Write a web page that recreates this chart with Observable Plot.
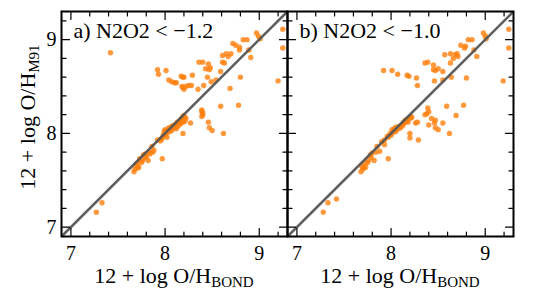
<!DOCTYPE html>
<html><head><meta charset="utf-8">
<script src="https://cdn.jsdelivr.net/npm/d3@7"></script>
<script src="https://cdn.jsdelivr.net/npm/@observablehq/plot@0.6"></script>
<style>
body{margin:0;background:#fff}
#chart{position:relative;width:538px;height:294px}
</style>
</head><body><div id="chart"></div>
<script>
// ---- data ----
const axisDomain = [6.9, 9.3];
const majorTicks = [7, 8, 9];
const panelKeys = ["a", "b"];
const panelLabels = ["a) N2O2 < \u22121.2", "b) N2O2 < \u22121.0"];
const xLabelMain = "12 + log O/H";
const xLabelSub = "BOND";
const yLabelMain = "12 + log O/H";
const yLabelSub = "M91";

// panel a) N2O2 < -1.2
const aX = [7.27,7.33,7.67,7.68,7.70,7.72,7.70,7.73,7.73,7.76,7.77,7.79,7.80,7.82,7.83,7.84,7.86,7.87,7.88,7.97,
  7.92,7.95,7.96,7.98,7.99,8.00,8.01,8.02,8.03,8.05,8.07,8.09,8.10,8.12,8.14,8.16,8.18,8.19,8.20,8.21,8.19,8.27,
  8.04,8.06,8.08,8.11,8.13,8.15,8.17,8.20,8.22,8.21,8.00,7.97,8.01,8.17,8.12,
  8.02,8.05,8.08,8.10,8.13,8.16,8.18,8.19,8.14,8.07,7.71,7.75,7.79,
  8.39,8.39,8.40,8.39,8.40,8.46,8.47,8.50,8.62,8.59,8.78,
  7.42,7.92,7.93,8.01,8.04,8.07,8.10,8.12,8.17,8.19,8.20,8.18,8.19,8.20,8.22,8.25,8.28,8.29,8.35,8.36,8.40,8.41,
  8.43,8.46,8.47,8.48,8.45,8.49,8.54,8.59,8.61,8.63,8.61,8.65,8.67,8.70,8.69,8.72,8.75,8.79,8.79,8.80,8.83,8.87,
  8.89,8.91,8.97,8.99,9.01,9.20,9.25,9.25];
const aY = [7.16,7.26,7.59,7.62,7.66,7.64,7.68,7.71,7.73,7.71,7.77,7.78,7.75,7.71,7.80,7.78,7.86,7.80,7.82,7.73,
  7.93,7.92,7.94,7.98,8.02,8.04,8.00,7.96,8.03,8.05,8.03,8.07,8.09,8.05,8.11,8.12,8.14,8.18,8.15,8.17,8.00,8.11,
  8.06,8.04,8.06,8.08,8.10,8.13,8.15,8.19,8.16,8.13,7.98,7.95,8.03,8.11,8.10,
  8.01,8.02,8.08,8.06,8.12,8.10,8.16,8.12,8.08,8.07,7.63,7.69,7.74,
  8.25,8.23,8.20,8.18,8.22,8.12,8.06,8.03,8.00,8.29,8.30,
  8.86,8.68,8.63,8.67,8.57,8.55,8.54,8.54,8.61,8.60,8.60,8.50,8.49,8.47,8.50,8.51,8.51,8.62,8.47,8.76,8.76,8.51,
  8.69,8.74,8.68,8.70,8.60,8.55,8.57,8.66,8.76,8.75,8.83,8.85,8.82,8.85,8.48,8.96,8.94,8.89,8.92,8.60,9.00,9.00,
  8.89,8.81,9.07,9.04,9.01,8.56,9.11,8.91];

// panel b) N2O2 < -1.0
const bX = [7.28,7.33,7.42,7.68,7.69,7.72,7.73,7.76,7.78,7.80,7.82,7.84,7.85,7.88,7.97,7.93,7.93,7.97,7.99,8.01,
  8.03,8.06,8.09,8.13,8.15,8.18,8.21,8.20,8.20,8.26,8.29,8.36,8.40,8.46,8.47,8.50,8.55,8.62,8.69,
  7.70,8.04,8.08,8.11,8.14,8.16,8.19,8.12,8.05,8.00,7.96,8.17,8.22,
  8.02,8.07,8.10,8.13,8.18,8.20,8.15,7.71,7.75,7.79,7.90,
  8.39,8.40,8.38,8.43,8.47,8.59,8.77,8.28,
  7.92,8.01,8.07,8.17,8.19,8.27,8.28,8.36,8.39,8.45,8.45,8.47,8.46,8.50,8.55,8.55,8.57,8.63,8.63,8.66,8.68,8.70,
  8.71,8.64,8.74,8.78,8.79,8.80,8.82,8.86,8.88,8.91,8.98,9.00,9.01,9.19,9.25,9.25];
const bY = [7.16,7.26,7.30,7.59,7.65,7.68,7.64,7.71,7.77,7.79,7.71,7.80,7.86,7.81,7.73,7.93,7.88,7.96,8.00,8.04,
  8.03,8.05,8.07,8.10,8.12,8.15,8.18,8.00,7.95,8.11,7.93,8.20,8.09,8.11,8.06,8.04,8.11,8.00,8.19,
  7.62,8.06,8.05,8.09,8.12,8.14,8.16,8.08,8.02,7.98,7.97,8.13,8.17,
  8.01,8.07,8.06,8.11,8.12,8.16,8.14,7.63,7.69,7.74,7.91,
  8.27,8.23,8.21,8.16,8.14,8.29,8.30,8.12,
  8.67,8.67,8.63,8.62,8.61,8.59,8.51,8.75,8.76,8.73,8.68,8.67,8.56,8.69,8.66,8.57,8.84,8.85,8.75,8.80,8.84,8.85,
  8.82,8.60,8.94,8.91,8.93,8.59,9.00,9.00,8.89,8.82,9.07,9.04,9.01,8.56,9.11,8.91];

// ---- build ----
const points = [
  ...aX.map((x, i) => ({panel: "a", x, y: aY[i]})),
  ...bX.map((x, i) => ({panel: "b", x, y: bY[i]}))
];
const labelRows = panelKeys.map((k, i) => ({panel: k, text: panelLabels[i]}));
const diagonal = [{x1: axisDomain[0], y1: axisDomain[0], x2: axisDomain[1], y2: axisDomain[1]}];
const minorTicks = d3.range(7, 9.3001, 0.2).map(v => +v.toFixed(1)).filter(v => !majorTicks.includes(v));

const tickShape = {draw(ctx, l) { ctx.moveTo(0, 0); ctx.lineTo(0, -l); }};
function tickSet(values, len) {
  const o = {length: len, anchor: "start", shape: tickShape, stroke: "black", strokeWidth: 1.2};
  return [
    Plot.vector(values, {...o, x: d => d, frameAnchor: "bottom", rotate: 0}),
    Plot.vector(values, {...o, x: d => d, frameAnchor: "top", rotate: 180}),
    Plot.vector(values, {...o, y: d => d, frameAnchor: "left", rotate: 90}),
    Plot.vector(values, {...o, y: d => d, frameAnchor: "right", rotate: 270})
  ];
}

const W = 538, H = 294, mL = 61, mR = 25, mT = 11, mB = 58;
const FONT = "Liberation Serif, Times New Roman, serif";

const svg = Plot.plot({
  width: W, height: H,
  marginLeft: mL, marginRight: mR, marginTop: mT, marginBottom: mB,
  style: {fontFamily: FONT, fontSize: "20px", color: "black", background: "white"},
  fx: {domain: panelKeys, padding: 0, axis: null, label: null},
  x: {domain: axisDomain, label: null},
  y: {domain: axisDomain, label: null},
  marks: [
    Plot.dot(points, {fx: "panel", x: "x", y: "y", r: 2.7, fill: "#ff7f0e", fillOpacity: 0.8, stroke: "none"}),
    Plot.link(diagonal, {x1: "x1", y1: "y1", x2: "x2", y2: "y2", stroke: "#555", strokeWidth: 2.5, strokeOpacity: 0.95}),
    ...tickSet(minorTicks, 4.5),
    ...tickSet(majorTicks, 8),
    Plot.axisX({ticks: majorTicks, tickSize: 0, tickPadding: 9, tickFormat: d => d, label: null, fontSize: 20}),
    Plot.axisY({ticks: majorTicks, tickSize: 0, tickPadding: 5, tickFormat: d => d, label: null, fontSize: 20}),
    Plot.text(labelRows, {fx: "panel", text: "text", frameAnchor: "top-left", lineAnchor: "top", dx: 12, dy: 11, fontSize: 22, fill: "black"}),
    Plot.frame({stroke: "black", strokeWidth: 2})
  ]
});

// axis titles with subscripts
const s = d3.select(svg);
const facetW = (W - mL - mR) / 2;
[mL + facetW / 2, mL + facetW * 1.5].forEach(cx => {
  const t = s.append("text").attr("transform", `translate(${cx},283)`).attr("text-anchor", "middle")
    .attr("font-family", FONT).attr("font-size", 22).attr("fill", "black");
  t.append("tspan").text(xLabelMain);
  t.append("tspan").attr("font-size", 15).attr("dy", 4).text(xLabelSub);
});
const yt = s.append("text").attr("transform", `translate(35,117) rotate(-90)`).attr("text-anchor", "middle")
  .attr("font-family", FONT).attr("font-size", 22).attr("fill", "black");
yt.append("tspan").text(yLabelMain);
yt.append("tspan").attr("font-size", 15).attr("dy", 4).text(yLabelSub);

document.getElementById("chart").appendChild(svg);
</script>
</body></html>
